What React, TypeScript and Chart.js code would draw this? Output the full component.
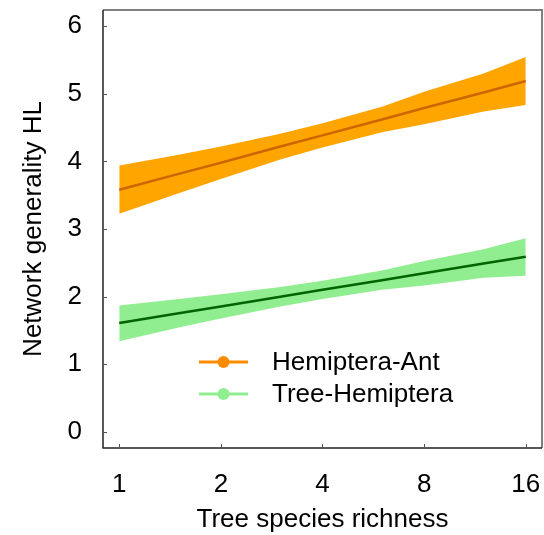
import React, { useEffect, useRef } from "react";
import { Chart, registerables } from "chart.js";

Chart.register(...registerables);

const xValues = [1, 1.5, 2, 3, 4, 6, 8, 12, 16];
const xTickValues = [1, 2, 4, 8, 16];
const yTickValues = [0, 1, 2, 3, 4, 5, 6];

const antMean = [3.58, 3.815, 3.98, 4.22, 4.385, 4.62, 4.79, 5.02, 5.19];
const antUpper = [3.94, 4.1, 4.22, 4.41, 4.565, 4.81, 5.03, 5.3, 5.545];
const antLower = [3.225, 3.53, 3.74, 4.03, 4.205, 4.43, 4.55, 4.74, 4.835];

const treeMean = [1.61, 1.753, 1.855, 1.998, 2.1, 2.243, 2.345, 2.488, 2.59];
const treeUpper = [1.87, 1.963, 2.035, 2.141, 2.235, 2.386, 2.525, 2.7, 2.865];
const treeLower = [1.34, 1.543, 1.675, 1.855, 1.965, 2.1, 2.165, 2.278, 2.31];

const seriesNames = ["Hemiptera-Ant", "Tree-Hemiptera"];
const legendColors = ["#FF8C00", "#90EE90"];

const FONT = "'Liberation Sans', Arial, sans-serif";
const FS = 26;

const pts = (ys: number[]) => xValues.map((x, i) => ({ x, y: ys[i] }));

const framePlugin = {
  id: "frame",
  afterDraw(chart: any) {
    const { ctx, chartArea: a, scales } = chart;
    ctx.save();
    ctx.strokeStyle = "#808080";
    ctx.lineWidth = 2;
    ctx.beginPath();
    ctx.moveTo(a.left, a.top);
    ctx.lineTo(a.right, a.top);
    ctx.lineTo(a.right, a.bottom);
    ctx.stroke();
    ctx.strokeStyle = "#222222";
    ctx.lineWidth = 1.5;
    ctx.beginPath();
    ctx.moveTo(a.left, a.top);
    ctx.lineTo(a.left, a.bottom);
    ctx.lineTo(a.right, a.bottom);
    ctx.stroke();
    ctx.strokeStyle = "#555555";
    ctx.lineWidth = 1;
    yTickValues.forEach((v) => {
      const y = Math.round(scales.y.getPixelForValue(v)) + 0.5;
      ctx.beginPath();
      ctx.moveTo(a.left, y);
      ctx.lineTo(a.left + 4, y);
      ctx.stroke();
    });
    xTickValues.forEach((v) => {
      const x = Math.round(scales.x.getPixelForValue(v)) + 0.5;
      ctx.beginPath();
      ctx.moveTo(x, a.bottom);
      ctx.lineTo(x, a.bottom - 4);
      ctx.stroke();
    });
    const lx0 = a.left + 96;
    const lx1 = a.left + 145;
    const tx = a.left + 169;
    const ly0 = a.top + 352;
    const gap = 32;
    seriesNames.forEach((name, i) => {
      const y = ly0 + i * gap;
      ctx.strokeStyle = legendColors[i];
      ctx.lineWidth = 3;
      ctx.beginPath();
      ctx.moveTo(lx0, y);
      ctx.lineTo(lx1, y);
      ctx.stroke();
      ctx.fillStyle = legendColors[i];
      ctx.beginPath();
      ctx.arc((lx0 + lx1) / 2, y, 6, 0, Math.PI * 2);
      ctx.fill();
      ctx.fillStyle = "#000000";
      ctx.font = `${FS}px ${FONT}`;
      ctx.textAlign = "left";
      ctx.textBaseline = "middle";
      ctx.fillText(name, tx, y + 1);
    });
    ctx.restore();
  },
};

export default function App() {
  const ref = useRef<HTMLCanvasElement | null>(null);
  useEffect(() => {
    if (!ref.current) return;
    const chart = new Chart(ref.current, {
      type: "line",
      data: {
        datasets: [
          {
            label: seriesNames[0],
            data: pts(antMean),
            borderColor: "#CD6600",
            borderWidth: 2.5,
            pointRadius: 0,
            fill: false,
            tension: 0,
          },
          {
            label: seriesNames[1],
            data: pts(treeMean),
            borderColor: "#006400",
            borderWidth: 2.5,
            pointRadius: 0,
            fill: false,
            tension: 0,
          },
          {
            label: "antUpper",
            data: pts(antUpper),
            borderWidth: 0,
            borderColor: "rgba(0,0,0,0)",
            backgroundColor: "#FFA500",
            pointRadius: 0,
            fill: "+1",
            tension: 0,
          },
          {
            label: "antLower",
            data: pts(antLower),
            borderWidth: 0,
            borderColor: "rgba(0,0,0,0)",
            pointRadius: 0,
            fill: false,
            tension: 0,
          },
          {
            label: "treeUpper",
            data: pts(treeUpper),
            borderWidth: 0,
            borderColor: "rgba(0,0,0,0)",
            backgroundColor: "#90EE90",
            pointRadius: 0,
            fill: "+1",
            tension: 0,
          },
          {
            label: "treeLower",
            data: pts(treeLower),
            borderWidth: 0,
            borderColor: "rgba(0,0,0,0)",
            pointRadius: 0,
            fill: false,
            tension: 0,
          },
        ],
      },
      options: {
        responsive: false,
        animation: false,
        layout: { padding: { top: 10, right: 2, left: 0, bottom: 0 } },
        plugins: {
          legend: { display: false },
          tooltip: { enabled: false },
          filler: { drawTime: "beforeDatasetsDraw" },
        },
        scales: {
          x: {
            type: "logarithmic",
            min: Math.pow(2, -0.16),
            max: Math.pow(2, 4.16),
            border: { display: false },
            grid: { display: false, drawTicks: false },
            afterBuildTicks: (s: any) => {
              s.ticks = xTickValues.map((v) => ({ value: v }));
            },
            afterFit: (s: any) => {
              s.height = 87;
              s.paddingLeft = 0;
              s.paddingRight = 0;
            },
            ticks: {
              autoSkip: false,
              maxRotation: 0,
              padding: 21,
              color: "#000",
              font: { family: FONT, size: FS },
              callback: (v: any) => String(v),
            },
            title: {
              display: true,
              text: "Tree species richness",
              color: "#000",
              font: { family: FONT, size: FS },
              padding: { top: 0, bottom: 0 },
            },
          },
          y: {
            type: "linear",
            min: -0.24,
            max: 6.24,
            border: { display: false },
            grid: { display: false, drawTicks: false },
            afterBuildTicks: (s: any) => {
              s.ticks = yTickValues.map((v) => ({ value: v }));
            },
            afterFit: (s: any) => {
              s.width = 103;
              s.paddingTop = 0;
              s.paddingBottom = 0;
            },
            ticks: {
              padding: 21,
              color: "#000",
              font: { family: FONT, size: FS },
              callback: (v: any) => String(v),
            },
            title: {
              display: true,
              text: "Network generality HL",
              color: "#000",
              font: { family: FONT, size: FS },
              padding: { top: 18, bottom: 0 },
            },
          },
        },
      },
      plugins: [framePlugin],
    });
    return () => chart.destroy();
  }, []);
  return (
    <div style={{ position: "absolute", left: 0, top: 0, width: 544, height: 535, background: "#fff" }}>
      <canvas ref={ref} width={544} height={535} />
    </div>
  );
}
